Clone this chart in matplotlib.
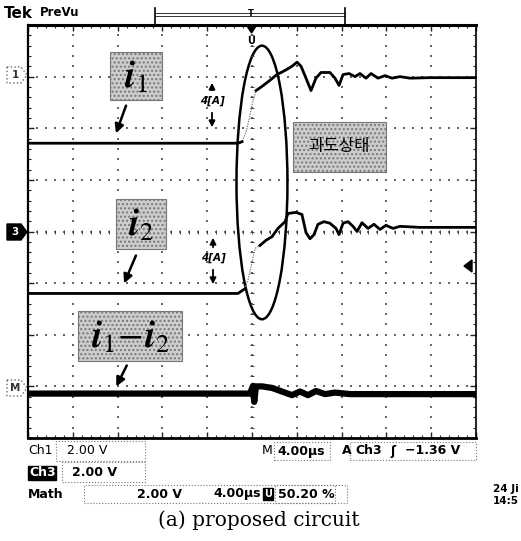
import matplotlib
matplotlib.use("Agg")
import matplotlib.pyplot as plt
from matplotlib.patches import Rectangle, Ellipse, Polygon
from matplotlib.lines import Line2D
import numpy as np

plt.rcParams["mathtext.fontset"] = "stix"

W, H = 521, 541

# time in us (4 us/div, trigger at centre), amplitude in screen divisions
i1_t = [-20, -1.25, -0.89, -0.54, -0.18, 0.09, 0.36, 0.89, 1.61, 2.23,
        2.95, 3.57, 4.02, 4.38, 4.82, 5.27, 5.71, 6.16, 6.96, 7.41,
        7.77, 8.13, 8.66, 9.20, 9.64, 10.18, 10.63, 11.25, 11.88, 12.50,
        13.21, 14.11, 15.89, 20]
i1_v = [1.71, 1.71, 1.74, 1.92, 2.25, 2.54, 2.73, 2.81, 2.93, 3.04,
        3.12, 3.20, 3.28, 3.20, 2.97, 2.73, 2.97, 3.08, 3.08, 2.97,
        2.83, 3.04, 3.06, 3.00, 3.06, 2.97, 3.06, 2.97, 3.02, 2.97,
        3.00, 2.97, 2.98, 2.98]

i2_t = [-20, -1.25, -0.71, -0.36, 0.0, 0.27, 0.71, 1.25, 1.79, 2.32,
        2.95, 3.21, 3.93, 4.46, 4.82, 5.18, 5.54, 5.89, 6.43, 6.96,
        7.50, 7.77, 8.13, 8.57, 9.02, 9.38, 9.82, 10.36, 10.89, 11.43,
        11.96, 12.59, 13.21, 15.0, 20]
i2_v = [-1.20, -1.20, -1.12, -0.95, -0.60, -0.33, -0.27, -0.17, -0.10, 0.06,
        0.19, 0.35, 0.37, 0.33, -0.02, -0.14, -0.06, 0.14, 0.19, 0.16,
        0.06, -0.06, 0.16, 0.19, 0.10, 0.0, 0.17, 0.06, 0.14, 0.04,
        0.12, 0.06, 0.10, 0.08, 0.08]

math_t = [-20, -0.18, 0.09, 0.20, 0.35, 0.89, 1.79, 2.68, 3.57, 4.29,
          5.0, 5.71, 6.52, 7.41, 8.75, 20]
math_v = [-3.14, -3.14, -2.99, -3.30, -3.0, -3.0, -3.03, -3.10, -3.17, -3.10,
          -3.17, -3.09, -3.15, -3.12, -3.15, -3.15]

RISE = (-0.6, 0.3)  # fast edge drawn faint on the scope


def fp(x, y):
    """image pixel -> figure fraction"""
    return x / W, 1 - y / H


fig = plt.figure(figsize=(W / 100, H / 100), dpi=100)
ax = fig.add_axes([28 / W, 1 - 438 / H, 448 / W, 413 / H])
ax.set_xlim(-20, 20)
ax.set_ylim(-4, 4)

# graticule
ax.set_xticks(np.arange(-20, 21, 4))
ax.set_xticks(np.arange(-20, 20.1, 0.8), minor=True)
ax.set_yticks(np.arange(-4, 5, 1))
ax.set_yticks(np.arange(-4, 4.01, 0.2), minor=True)
ax.tick_params(which="both", direction="in", top=True, right=True,
               labelbottom=False, labelleft=False, color="#222")
ax.tick_params(which="major", length=4, width=1)
ax.tick_params(which="minor", length=2.5, width=0.8)
for side, lw in [("top", 2.2), ("bottom", 2.0), ("left", 1.6), ("right", 1.2)]:
    ax.spines[side].set_linewidth(lw)

yy = np.arange(-4, 4.01, 0.2)
xx = np.arange(-20, 20.01, 0.8)
for k in range(1, 10):
    t = -20 + 4 * k
    ax.scatter(np.full_like(yy, t), yy, s=0.8, c="#666", marker="s", linewidths=0)
for k in range(1, 8):
    d = -4 + k
    ax.scatter(xx, np.full_like(xx, d), s=0.8, c="#666", marker="s", linewidths=0)
ax.plot(xx, np.zeros_like(xx), ls="none", marker="|", ms=2.5, mew=0.7, color="#444")
ax.plot(np.zeros_like(yy), yy, ls="none", marker="_", ms=2.5, mew=0.7, color="#444")

# traces
for tt, vv in [(i1_t, i1_v), (i2_t, i2_v)]:
    tt = np.array(tt)
    vv = np.array(vv)
    ax.plot(tt, vv, color="#777", lw=0.9, ls=(0, (1, 1)))
    pre = tt <= RISE[0]
    post = tt >= RISE[1]
    ax.plot(tt[pre], vv[pre], color="black", lw=2.0, solid_joinstyle="round")
    ax.plot(tt[post], vv[post], color="black", lw=2.0, solid_joinstyle="round")
ax.plot(math_t, math_v, color="black", lw=4.5, solid_joinstyle="round")

ax.add_patch(Ellipse((0.89, 0.95), 4.55, 5.3, fill=False, lw=1.8, ec="black"))

# label boxes
boxes = [((110, 52, 162, 100), r"$\boldsymbol{i}_1$", None),
         ((116, 199, 166, 249), r"$\boldsymbol{i}_2$", None),
         ((78, 311, 182, 361), r"$\boldsymbol{i}_1\!-\!\boldsymbol{i}_2$", None),
         ((293, 122, 386, 172), "과도상태", "cjk")]
for (x0, y0, x1, y1), label, kind in boxes:
    fig.patches.append(Rectangle(fp(x0, y1), (x1 - x0) / W, (y1 - y0) / H,
                                 transform=fig.transFigure, fc="#cdcdcd",
                                 ec="#777", lw=0.8, hatch="....", zorder=5))
    cx, cy = fp((x0 + x1) / 2, (y0 + y1) / 2)
    if kind == "cjk":
        fig.text(cx, cy, label, ha="center", va="center", fontsize=12,
                 family=["Noto Sans CJK KR", "DejaVu Sans"], zorder=6)
    else:
        fig.text(cx, cy - 0.004, label, ha="center", va="center", fontsize=27, zorder=6)

arrows = [((127, 103), (115, 136)), ((137, 253), (123, 286)), ((128, 363), (115, 389))]
for (xa, ya), (xb, yb) in arrows:
    ax.annotate("", xy=(xb, H - yb), xycoords="figure pixels",
                xytext=(xa, H - ya), textcoords="figure pixels",
                arrowprops=dict(arrowstyle="-|>", lw=1.8, color="black",
                                mutation_scale=13))

# 4[A] markers
for x, top, mid, bot in [(212, 80, 101, 130), (213, 235, 258, 287)]:
    ax.annotate("", xy=(x, H - top), xycoords="figure pixels",
                xytext=(x, H - (mid - 8)), textcoords="figure pixels",
                arrowprops=dict(arrowstyle="-|>", lw=1.3, color="black", mutation_scale=9))
    ax.annotate("", xy=(x, H - bot), xycoords="figure pixels",
                xytext=(x, H - (mid + 9)), textcoords="figure pixels",
                arrowprops=dict(arrowstyle="-|>", lw=1.3, color="black", mutation_scale=9))
    fig.text(*fp(x, mid), "4[A]", ha="center", va="center", fontsize=7.5,
             style="italic", weight="bold")

# header
fig.text(*fp(4, 13), "Tek", fontsize=11, weight="bold", va="center")
fig.text(*fp(40, 13), "PreVu", fontsize=8.5, weight="bold", va="center")
for y in (13, 16):
    fig.add_artist(Line2D([155 / W, 345 / W], [1 - y / H] * 2, color="#333", lw=0.7))
for x in (155, 345):
    fig.add_artist(Line2D([x / W] * 2, [1 - 8 / H, 1 - 24 / H], color="black", lw=1.2))
fig.text(*fp(251, 13), "T", fontsize=6, weight="bold", ha="center", va="center")
fig.patches.append(Polygon([fp(247, 26), fp(256, 26), fp(251.5, 33)], closed=True,
                           transform=fig.transFigure, fc="black", ec="black"))
fig.text(*fp(251.5, 41), "U", fontsize=7, weight="bold", ha="center", va="center")

# channel markers
def marker(yc, label, filled):
    pts = [fp(7, yc - 8), fp(21, yc - 8), fp(27, yc), fp(21, yc + 8), fp(7, yc + 8)]
    fig.patches.append(Polygon(pts, closed=True, transform=fig.transFigure,
                               fc="black" if filled else "white",
                               ec="black" if filled else "#666",
                               lw=1.0, ls="-" if filled else ":"))
    fig.text(*fp(15, yc), label, fontsize=7.5, weight="bold", ha="center", va="center",
             color="white" if filled else "#333")

marker(75, "1", False)
marker(232, "3", True)
marker(388, "M", False)
fig.patches.append(Polygon([fp(464, 266), fp(472, 260), fp(472, 272)], closed=True,
                           transform=fig.transFigure, fc="black", ec="black"))

# readouts
def dotted_box(x0, y0, x1, y1):
    fig.patches.append(Rectangle(fp(x0, y1), (x1 - x0) / W, (y1 - y0) / H,
                                 transform=fig.transFigure, fill=False,
                                 ec="#777", lw=0.8, ls=":"))

fs = 9
fig.text(*fp(28, 451), "Ch1", fontsize=fs, va="center")
dotted_box(56, 441, 145, 461)
fig.text(*fp(67, 451), "2.00 V", fontsize=fs, va="center")
fig.text(*fp(262, 451), "M", fontsize=fs, va="center")
dotted_box(274, 442, 330, 460)
fig.text(*fp(277, 451), "4.00µs", fontsize=fs, va="center", weight="bold")
fig.text(*fp(342, 451), "A", fontsize=fs, va="center", weight="bold")
dotted_box(350, 442, 476, 460)
fig.text(*fp(355, 451), "Ch3", fontsize=fs, va="center", weight="bold")
fig.text(*fp(390, 451), "ʃ", fontsize=fs, va="center", weight="bold")
fig.text(*fp(405, 451), "−1.36 V", fontsize=fs, va="center", weight="bold")

fig.text(*fp(29, 473), "Ch3", fontsize=fs, va="center", color="white", weight="bold",
         bbox=dict(fc="black", ec="black", pad=0.5))
dotted_box(62, 462, 145, 482)
fig.text(*fp(72, 473), "2.00 V", fontsize=fs, va="center", weight="bold")

fig.text(*fp(28, 494), "Math", fontsize=fs, va="center", weight="bold")
dotted_box(84, 485, 347, 503)
fig.text(*fp(137, 494), "2.00 V", fontsize=fs, va="center", weight="bold")
fig.text(*fp(213, 494), "4.00µs", fontsize=fs, va="center", weight="bold")
fig.text(*fp(268, 494), "U", fontsize=7, va="center", ha="center", color="white",
         weight="bold", bbox=dict(fc="black", ec="black", pad=0.6))
dotted_box(275, 485, 335, 503)
fig.text(*fp(278, 494), "50.20 %", fontsize=fs, va="center", weight="bold")

fig.text(*fp(519, 489), "24 Ji", fontsize=7.5, va="center", ha="right", weight="bold")
fig.text(*fp(519, 501), "14:5", fontsize=7.5, va="center", ha="right", weight="bold")

fig.text(*fp(259, 520), "(a) proposed circuit", fontsize=14.5, ha="center", va="center",
         family="DejaVu Serif")

fig.savefig("out.png", dpi=100)
